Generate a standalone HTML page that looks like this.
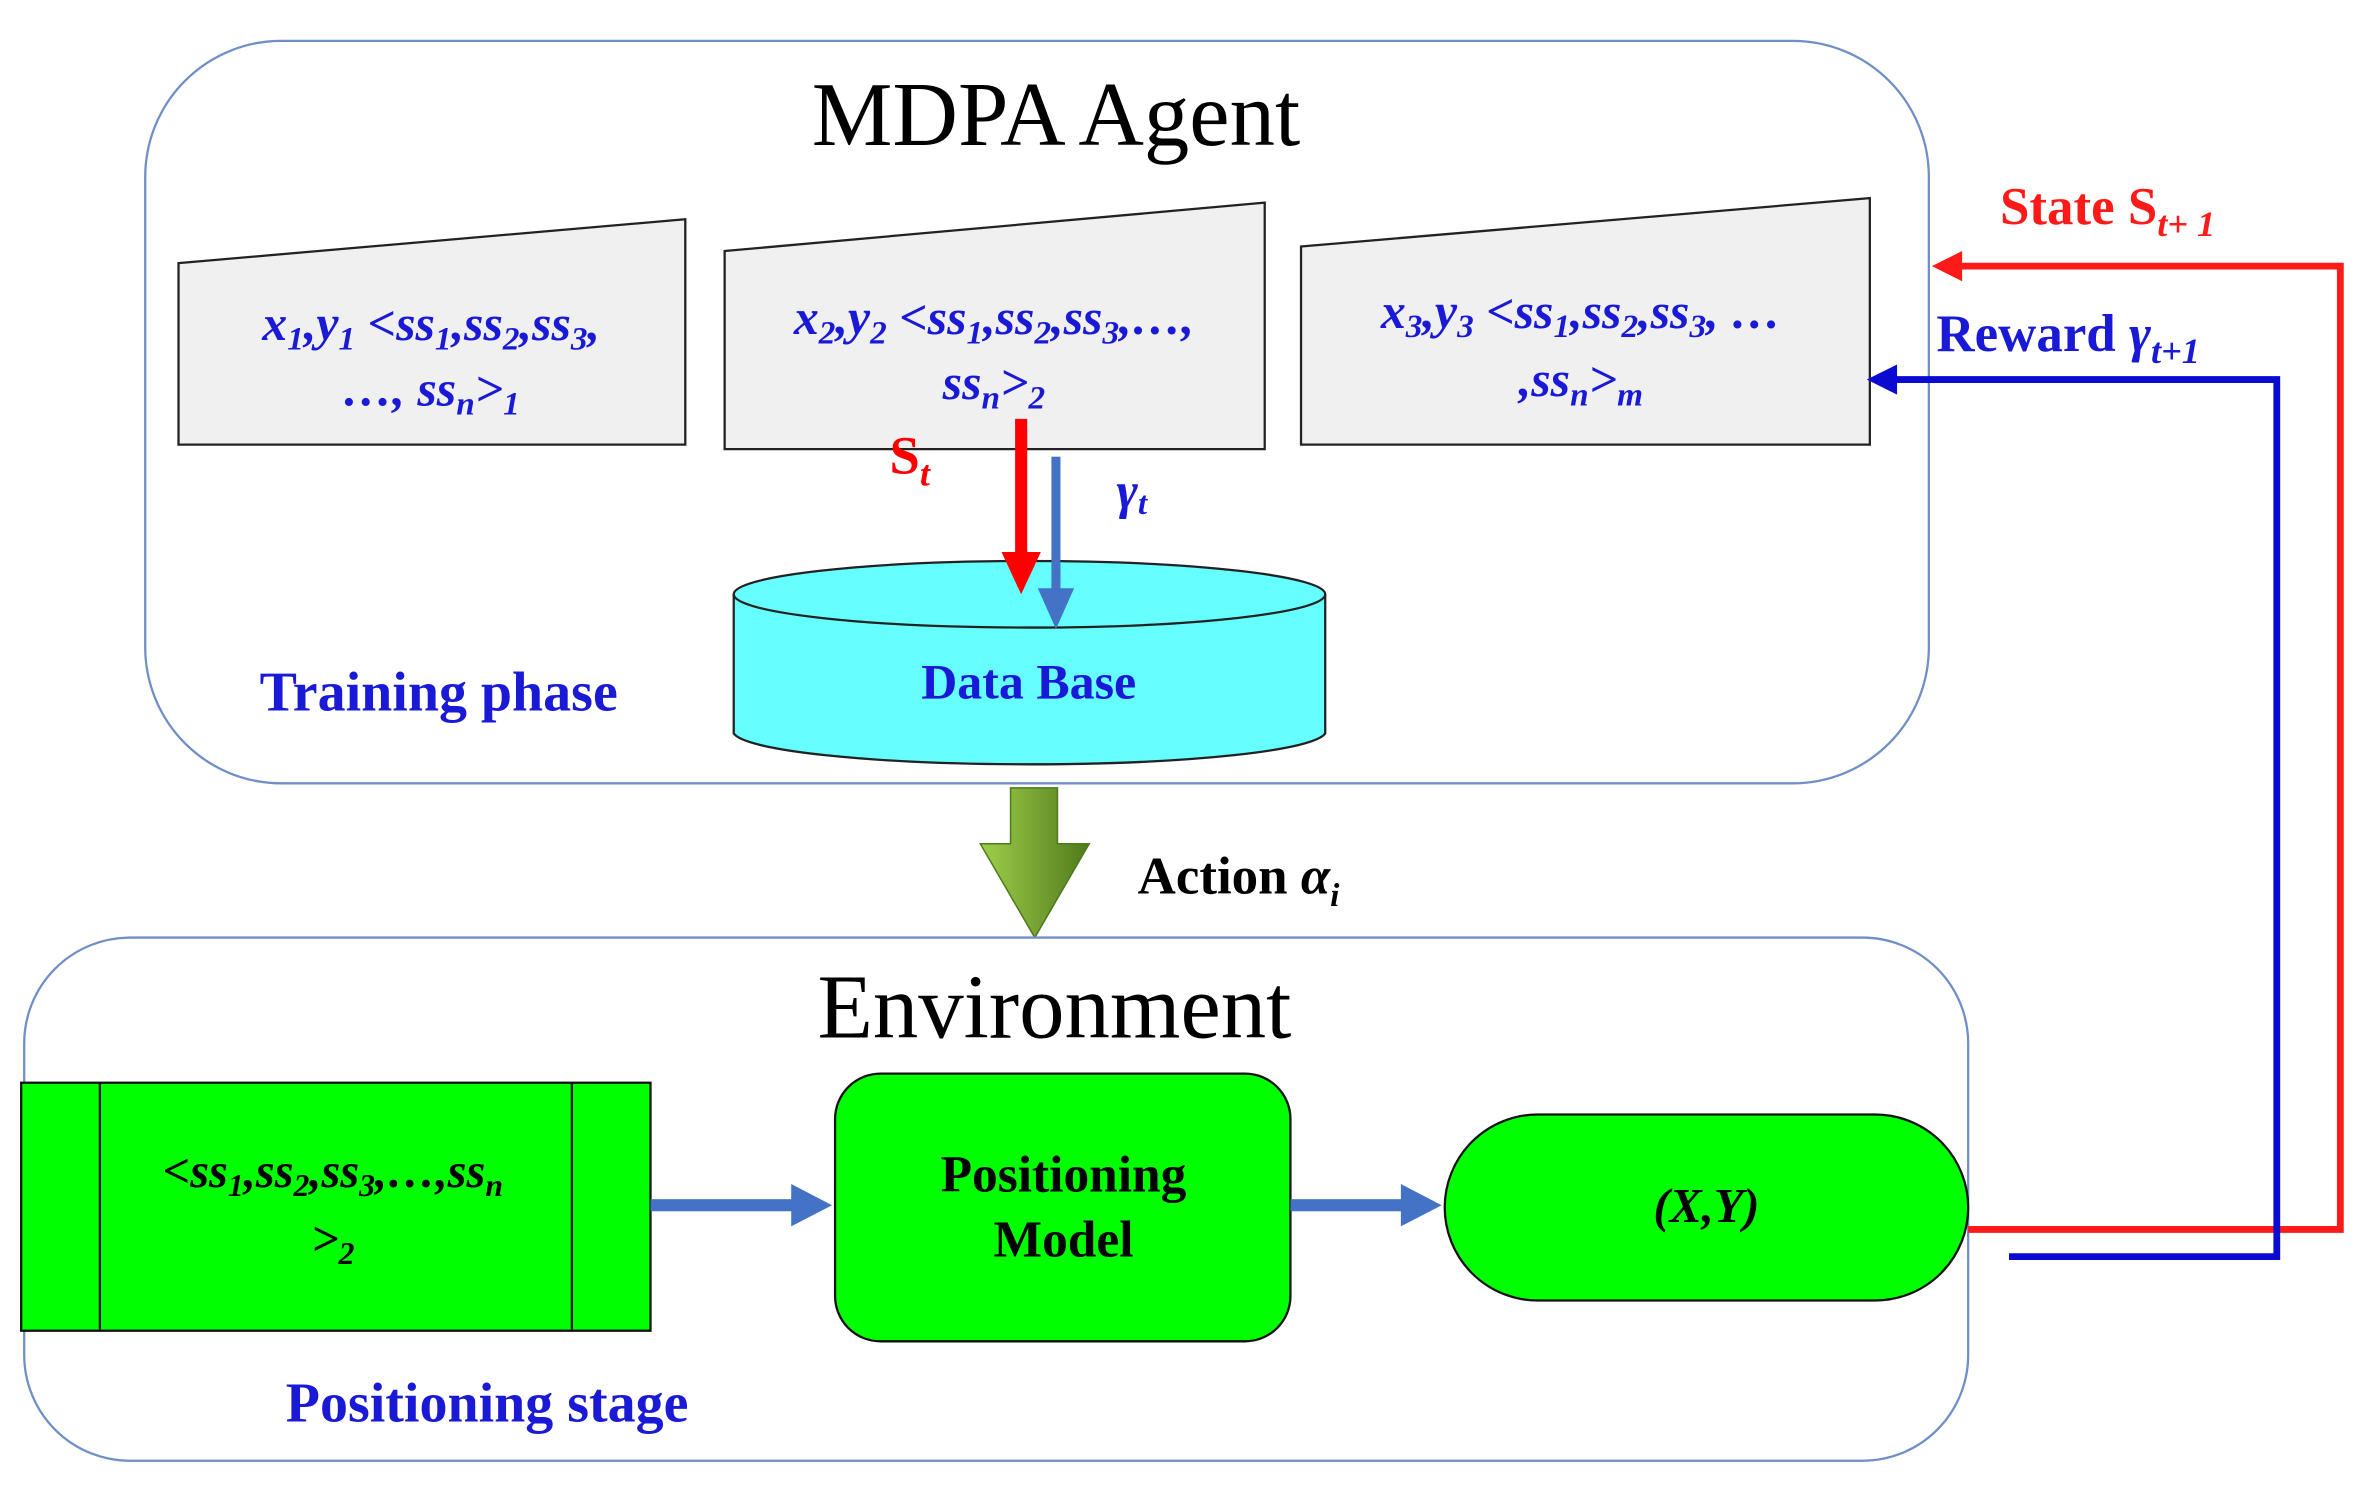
<!DOCTYPE html>
<html><head><meta charset="utf-8"><style>
html,body{margin:0;padding:0;background:#fff;}
svg{display:block;}
text{font-family:"Liberation Serif",serif;}
.bl{fill:#1a1ad6;font-weight:bold;font-style:italic;font-size:33px;}
</style></head><body>
<svg width="2360" height="1488" viewBox="0 0 1560 984" preserveAspectRatio="none" xmlns="http://www.w3.org/2000/svg">
<defs>
<linearGradient id="g" x1="0" x2="1" y1="0" y2="0">
<stop offset="0" stop-color="#9ed04a"/><stop offset="1" stop-color="#4f7a1c"/></linearGradient>
</defs>
<rect x="96" y="27" width="1179" height="491" rx="90" fill="#fff" stroke="#6f8fc6" stroke-width="1.5"/>
<text x="698" y="96" text-anchor="middle" font-size="60">MDPA Agent</text>
<polygon points="118,174 453,145 453,294 118,294" fill="#f0f0f0" stroke="#222" stroke-width="1.5"/>
<polygon points="479,166 836,134 836,297 479,297" fill="#f0f0f0" stroke="#222" stroke-width="1.5"/>
<polygon points="860,163 1236,131 1236,294 860,294" fill="#f0f0f0" stroke="#222" stroke-width="1.5"/>
<text class="bl" x="285" y="225" text-anchor="middle">x<tspan font-size="22" dy="6">1</tspan><tspan dy="-6">,y</tspan><tspan font-size="22" dy="6">1</tspan><tspan dy="-6"> &lt;ss</tspan><tspan font-size="22" dy="6">1</tspan><tspan dy="-6">,ss</tspan><tspan font-size="22" dy="6">2</tspan><tspan dy="-6">,ss</tspan><tspan font-size="22" dy="6">3</tspan><tspan dy="-6">,</tspan></text>
<text class="bl" x="285" y="268" text-anchor="middle">…, ss<tspan font-size="22" dy="6">n</tspan><tspan dy="-6">&gt;</tspan><tspan font-size="22" dy="6">1</tspan></text>
<text class="bl" x="657" y="221" text-anchor="middle">x<tspan font-size="22" dy="6">2</tspan><tspan dy="-6">,y</tspan><tspan font-size="22" dy="6">2</tspan><tspan dy="-6"> &lt;ss</tspan><tspan font-size="22" dy="6">1</tspan><tspan dy="-6">,ss</tspan><tspan font-size="22" dy="6">2</tspan><tspan dy="-6">,ss</tspan><tspan font-size="22" dy="6">3</tspan><tspan dy="-6">,…,</tspan></text>
<text class="bl" x="657" y="264" text-anchor="middle">ss<tspan font-size="22" dy="6">n</tspan><tspan dy="-6">&gt;</tspan><tspan font-size="22" dy="6">2</tspan></text>
<text class="bl" x="1045" y="217" text-anchor="middle">x<tspan font-size="22" dy="6">3</tspan><tspan dy="-6">,y</tspan><tspan font-size="22" dy="6">3</tspan><tspan dy="-6">  &lt;ss</tspan><tspan font-size="22" dy="6">1</tspan><tspan dy="-6">,ss</tspan><tspan font-size="22" dy="6">2</tspan><tspan dy="-6">,ss</tspan><tspan font-size="22" dy="6">3</tspan><tspan dy="-6">, …</tspan></text>
<text class="bl" x="1045" y="262" text-anchor="middle">,ss<tspan font-size="22" dy="6">n</tspan><tspan dy="-6">&gt;</tspan><tspan font-size="22" dy="6">m</tspan></text>
<path d="M485,393 L485,485 A196,22 0 0 0 876,485 L876,393" fill="#66ffff" stroke="#222" stroke-width="1.5"/>
<ellipse cx="680.5" cy="393" rx="195.5" ry="22" fill="#66ffff" stroke="#222" stroke-width="1.5"/>
<text x="680" y="462" text-anchor="middle" font-size="33" font-weight="bold" fill="#1a1ad6">Data Base</text>
<text x="290" y="470" text-anchor="middle" font-size="37" font-weight="bold" fill="#1a1ad6">Training phase</text>
<rect x="671" y="277" width="8" height="90" fill="#ff0000"/>
<polygon points="662,365 688,365 675,393" fill="#ff0000"/>
<rect x="695" y="302" width="6" height="90" fill="#4472c4"/>
<polygon points="686,389 710,389 698,416" fill="#4472c4"/>
<text x="588" y="313" font-size="36" font-weight="bold" fill="#ff0000">S<tspan font-size="24" font-style="italic" dy="8">t</tspan></text>
<text x="738" y="336" font-size="34" font-weight="bold" font-style="italic" fill="#1a1ad6">γ<tspan font-size="22" dy="4">t</tspan></text>
<polygon points="668,521 699,521 699,558 720,558 684,620 648,558 668,558" fill="url(#g)" stroke="#4f7a1c" stroke-width="1"/>
<text x="752" y="591" font-size="35" font-weight="bold">Action <tspan font-style="italic">α</tspan><tspan font-size="22" font-style="italic" dy="8">i</tspan></text>
<rect x="16" y="620" width="1285" height="346" rx="70" fill="#fff" stroke="#6f8fc6" stroke-width="1.5"/>
<text x="697" y="686" text-anchor="middle" font-size="60">Environment</text>
<rect x="14" y="716" width="416" height="164" fill="#00ff00" stroke="#111" stroke-width="1.5"/>
<line x1="66" y1="716" x2="66" y2="880" stroke="#111" stroke-width="1.5"/>
<line x1="378" y1="716" x2="378" y2="880" stroke="#111" stroke-width="1.5"/>
<text x="220" y="785" text-anchor="middle" font-size="32" font-weight="bold" font-style="italic">&lt;ss<tspan font-size="21" dy="6">1</tspan><tspan dy="-6">,ss</tspan><tspan font-size="21" dy="6">2</tspan><tspan dy="-6">,ss</tspan><tspan font-size="21" dy="6">3</tspan><tspan dy="-6">,…,ss</tspan><tspan font-size="21" dy="6">n</tspan></text>
<text x="220" y="830" text-anchor="middle" font-size="32" font-weight="bold" font-style="italic">&gt;<tspan font-size="21" dy="6">2</tspan></text>
<rect x="430" y="793" width="95" height="8" fill="#4472c4"/>
<polygon points="523,783 550,797 523,811" fill="#4472c4"/>
<rect x="552" y="710" width="301" height="177" rx="30" fill="#00ff00" stroke="#111" stroke-width="1.5"/>
<text x="703" y="788" text-anchor="middle" font-size="34" font-weight="bold">Positioning</text>
<text x="703" y="831" text-anchor="middle" font-size="34" font-weight="bold">Model</text>
<rect x="853" y="793" width="75" height="8" fill="#4472c4"/>
<polygon points="926,783 953,797 926,811" fill="#4472c4"/>
<rect x="955" y="737" width="346" height="123" rx="61.5" fill="#00ff00" stroke="#111" stroke-width="1.5"/>
<text x="1128" y="808" text-anchor="middle" font-size="32" font-weight="bold" font-style="italic">(X,Y)</text>
<text x="322" y="940" text-anchor="middle" font-size="37" font-weight="bold" fill="#1a1ad6">Positioning stage</text>
<polyline points="1301,813 1547,813 1547,176 1290,176" fill="none" stroke="#ff1a1a" stroke-width="4.5"/>
<polygon points="1277,176 1297,166 1297,186" fill="#ff1a1a"/>
<polyline points="1328,831 1505,831 1505,251 1248,251" fill="none" stroke="#0a0ad0" stroke-width="4.5"/>
<polygon points="1234,251 1254,241 1254,261" fill="#0a0ad0"/>
<text x="1322" y="148" font-size="35" font-weight="bold" fill="#ff1a1a">State  S<tspan font-size="24" font-style="italic" dy="8">t+ 1</tspan></text>
<text x="1280" y="232" font-size="35" font-weight="bold" fill="#1a1ad6">Reward <tspan font-style="italic">γ</tspan><tspan font-size="24" font-style="italic" dy="8">t+1</tspan></text>
</svg>
</body></html>
